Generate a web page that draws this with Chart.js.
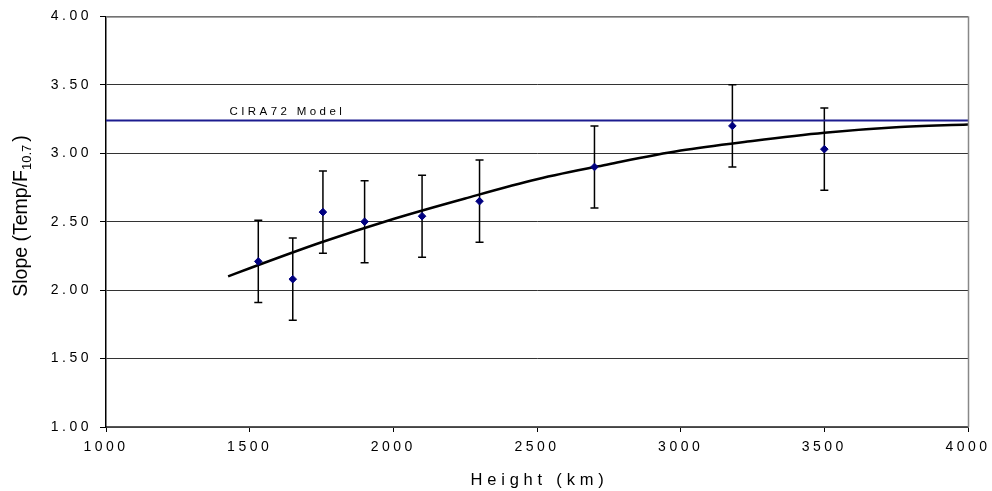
<!DOCTYPE html>
<html><head><meta charset="utf-8">
<script src="https://cdn.jsdelivr.net/npm/chart.js@4.4.1/dist/chart.umd.min.js"></script>
<style>html,body{margin:0;padding:0;background:#fff;}canvas{display:block;}</style>
</head><body>
<canvas id="c" width="992" height="491"></canvas>
<script>
// Measured points
const heights = [1530, 1650, 1755, 1900, 2100, 2300, 2700, 3180, 3500];
const slopes  = [2.21, 2.08, 2.57, 2.50, 2.54, 2.65, 2.90, 3.20, 3.03];
const errors  = [0.30, 0.30, 0.30, 0.30, 0.30, 0.30, 0.30, 0.30, 0.30];
// Fitted curve
const fitHeights = [1425, 1500, 1750, 2000, 2250, 2500, 2750, 3000, 3250, 3500, 3750, 4000];
const fitSlopes  = [2.10, 2.16, 2.35, 2.52, 2.67, 2.81, 2.92, 3.02, 3.09, 3.15, 3.19, 3.21];
// CIRA72 model
const modelHeights = [1000, 4000];
const modelSlopes  = [3.24, 3.24];
const modelLabel = 'CIRA72 Model';
const modelLabelAt = 1430;
// Axes
const xTitle = 'Height (km)';
const yTitleMain = 'Slope (Temp/F';
const yTitleSub = '10.7';
const yTitleEnd = ')';

const FONT = '"Liberation Sans", Arial, sans-serif';
const pts = (xs, ys) => xs.map((x, i) => ({x, y: ys[i]}));

const errorBars = {
  id: 'errorBars',
  beforeDatasetsDraw(chart) {
    const {ctx, scales: {x, y}} = chart;
    ctx.save();
    ctx.strokeStyle = '#000';
    ctx.lineWidth = 1.5;
    heights.forEach((h, i) => {
      const px = x.getPixelForValue(h);
      const top = y.getPixelForValue(slopes[i] + errors[i]);
      const bot = y.getPixelForValue(slopes[i] - errors[i]);
      ctx.beginPath();
      ctx.moveTo(px, top); ctx.lineTo(px, bot);
      ctx.moveTo(px - 4, top); ctx.lineTo(px + 4, top);
      ctx.moveTo(px - 4, bot); ctx.lineTo(px + 4, bot);
      ctx.stroke();
    });
    ctx.restore();
  }
};

const decor = {
  id: 'decor',
  beforeDraw(chart) {
    chart.ctx.letterSpacing = '3.5px';
  },
  afterDraw(chart) {
    const {ctx, chartArea: a, scales: {x, y}} = chart;
    ctx.save();
    // frame top/right
    ctx.strokeStyle = '#888';
    ctx.lineWidth = 1.5;
    ctx.beginPath();
    ctx.moveTo(a.left, a.top + 0.5); ctx.lineTo(a.right + 0.5, a.top + 0.5); ctx.lineTo(a.right + 0.5, a.bottom);
    ctx.stroke();
    // model label
    ctx.fillStyle = '#000';
    ctx.font = '11.5px ' + FONT;
    ctx.letterSpacing = '3.4px';
    ctx.textAlign = 'left';
    ctx.textBaseline = 'alphabetic';
    ctx.fillText(modelLabel, x.getPixelForValue(modelLabelAt), y.getPixelForValue(modelSlopes[0]) - 5);
    // x title
    ctx.font = '16.5px ' + FONT;
    ctx.letterSpacing = '4.8px';
    ctx.textAlign = 'center';
    ctx.textBaseline = 'middle';
    ctx.fillText(xTitle, (a.left + a.right) / 2 + 2.5, 480);
    // y title
    ctx.letterSpacing = '0px';
    ctx.textAlign = 'left';
    ctx.textBaseline = 'alphabetic';
    const big = '19.5px ' + FONT, small = '13px ' + FONT;
    ctx.font = big; const w1 = ctx.measureText(yTitleMain).width; const w3 = ctx.measureText(yTitleEnd).width + 3;
    ctx.font = small; const w2 = ctx.measureText(yTitleSub).width;
    const total = w1 + w2 + w3;
    ctx.translate(27, 216);
    ctx.rotate(-Math.PI / 2);
    let cx = -total / 2;
    ctx.font = big; ctx.fillText(yTitleMain, cx, 0); cx += w1;
    ctx.font = small; ctx.fillText(yTitleSub, cx, 4); cx += w2 + 3;
    ctx.font = big; ctx.fillText(yTitleEnd, cx, 0);
    ctx.restore();
  }
};

new Chart(document.getElementById('c'), {
  type: 'scatter',
  data: {
    datasets: [
      {
        label: 'Data',
        data: pts(heights, slopes),
        pointStyle: 'rectRot',
        pointRadius: 3.8,
        backgroundColor: '#000080',
        borderColor: '#000080',
        borderWidth: 1
      },
      {
        label: 'Fit',
        type: 'line',
        data: pts(fitHeights, fitSlopes),
        borderColor: '#000',
        borderWidth: 2.5,
        pointRadius: 0,
        fill: false,
        cubicInterpolationMode: 'monotone'
      },
      {
        label: modelLabel,
        type: 'line',
        data: pts(modelHeights, modelSlopes),
        borderColor: '#1c1c8f',
        borderWidth: 2,
        pointRadius: 0,
        fill: false
      }
    ]
  },
  options: {
    responsive: false,
    animation: false,
    layout: {padding: {left: 0, right: 24, top: 16, bottom: 0}},
    plugins: {legend: {display: false}, tooltip: {enabled: false}},
    scales: {
      x: {
        type: 'linear', min: 1000, max: 4000,
        afterFit: s => { s.height = 64; },
        ticks: {stepSize: 500, color: '#000', font: {size: 14, family: FONT}, padding: 7, maxRotation: 0, callback: v => String(v)},
        grid: {drawOnChartArea: false, drawTicks: true, tickLength: 5, color: '#000'},
        border: {color: '#555', width: 1.5}
      },
      y: {
        type: 'linear', min: 1, max: 4,
        afterFit: s => { s.width = 106; },
        ticks: {stepSize: 0.5, color: '#000', font: {size: 14, family: FONT}, padding: 8, callback: v => v.toFixed(2)},
        grid: {color: '#333', lineWidth: 1, tickLength: 6, tickColor: '#000'},
        border: {color: '#000', width: 1.5}
      }
    }
  },
  plugins: [errorBars, decor]
});
</script>
</body></html>
